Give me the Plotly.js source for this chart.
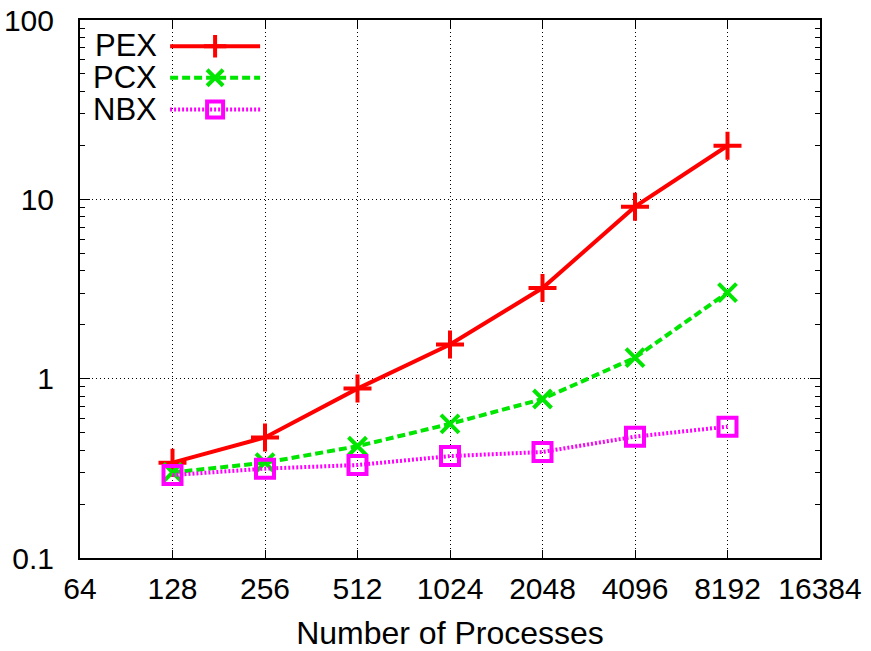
<!DOCTYPE html>
<html>
<head>
<meta charset="utf-8">
<script src="https://cdn.plot.ly/plotly-3.0.1.min.js"></script>
<style>html,body{margin:0;padding:0;background:#fff}#chart{width:871px;height:651px}</style>
</head>
<body>
<div id="chart"></div>
<script>
var procs = [128, 256, 512, 1024, 2048, 4096, 8192];
var pex = [0.34, 0.47, 0.88, 1.55, 3.2, 9.1, 19.9];
var pcx = [0.30, 0.34, 0.42, 0.56, 0.77, 1.31, 3.02];
var nbx = [0.29, 0.315, 0.33, 0.37, 0.39, 0.475, 0.54];
var xTicks = [64, 128, 256, 512, 1024, 2048, 4096, 8192, 16384];
var yTicks = [0.1, 1, 10, 100];
var yTickText = ['0.1', '1', '10', '100'];
var seriesNames = ['PEX', 'PCX', 'NBX'];

var FONT = 'Liberation Sans, Arial, sans-serif';
var traces = [
  {x: procs, y: pex, name: seriesNames[0], mode: 'lines+markers', line: {color: '#ff0000', width: 4},
   marker: {symbol: 'cross-thin-open', size: 20, line: {color: '#ff0000', width: 4}}},
  {x: procs, y: pcx, name: seriesNames[1], mode: 'lines+markers', line: {color: '#00e600', width: 4, dash: '8px,4px'},
   marker: {symbol: 'x-thin-open', size: 18, line: {color: '#00e600', width: 4}}},
  {x: procs, y: nbx, name: seriesNames[2], mode: 'lines+markers', line: {color: '#ff00ff', width: 4, dash: '2px,2px'},
   marker: {symbol: 'square-open', size: 18, line: {color: '#ff00ff', width: 4}}}
];
traces.forEach(function(t){ t.legendgroup = t.name; });
var displayNames = traces.map(function(t){ return t.name; });
traces.forEach(function(t){ t.name = ' '; });

var legY = [0.953, 0.894, 0.833];
var annotations = displayNames.map(function(n, i){
  return {xref: 'paper', yref: 'paper', x: 0.107, y: legY[i], xanchor: 'right', yanchor: 'middle',
          text: n, showarrow: false, font: {family: FONT, size: 31, color: '#000'}};
});

var layout = {
  width: 871, height: 651,
  margin: {l: 80, r: 51, t: 20, b: 93},
  paper_bgcolor: '#fff', plot_bgcolor: '#fff',
  font: {family: FONT, size: 30, color: '#000'},
  showlegend: true,
  legend: {x: 0.115, y: 0.99, xanchor: 'left', yanchor: 'top', bgcolor: 'rgba(0,0,0,0)',
           itemwidth: 90, font: {family: FONT, size: 22}, tracegroupgap: 0, itemclick: false},
  annotations: annotations,
  xaxis: {
    type: 'log', range: [Math.log10(64), Math.log10(16384)],
    tickmode: 'array', tickvals: xTicks, ticktext: xTicks.map(String),
    ticks: 'inside', ticklen: 8, tickwidth: 1, tickcolor: '#000',
    showline: true, linecolor: '#000', linewidth: 2, mirror: 'ticks',
    showgrid: true, gridcolor: '#000', gridwidth: 1, griddash: '1px,3px',
    zeroline: false, ticklabelstandoff: 3,
    tickfont: {family: FONT, size: 30},
    title: {text: 'Number of Processes', font: {family: FONT, size: 32}, standoff: 21}
  },
  yaxis: {
    type: 'log', range: [-1, 2],
    tickmode: 'array', tickvals: yTicks, ticktext: yTickText,
    ticks: 'inside', ticklen: 10, tickwidth: 1, tickcolor: '#000',
    showline: true, linecolor: '#000', linewidth: 2, mirror: 'ticks',
    showgrid: true, gridcolor: '#000', gridwidth: 1, griddash: '1px,3px',
    zeroline: false, ticklabelstandoff: 18,
    tickfont: {family: FONT, size: 30},
    minor: {ticks: 'inside', ticklen: 5, tickcolor: '#000', dtick: 'D1', showgrid: false}
  }
};
Plotly.newPlot('chart', traces, layout, {displayModeBar: false, staticPlot: true});
</script>
</body>
</html>
